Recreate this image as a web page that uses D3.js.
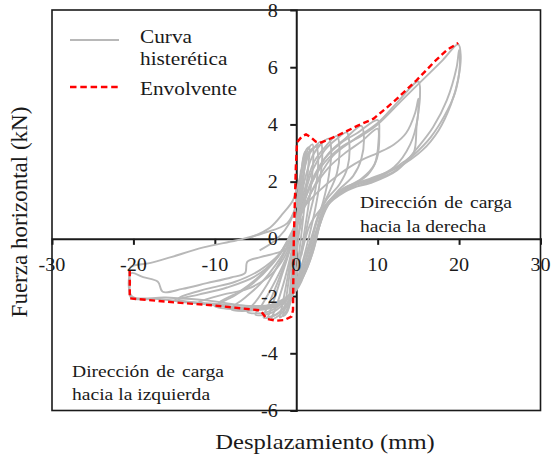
<!DOCTYPE html>
<html><head><meta charset="utf-8">
<script src="https://cdn.jsdelivr.net/npm/d3@7"></script>
<style>body{margin:0;background:#fff}svg{display:block}</style>
</head><body>
<script>
// ---- tick labels / texts ----
const xTickValues = [-30, -20, -10, 0, 10, 20, 30];
const yTickValues = [-6, -4, -2, 0, 2, 4, 6, 8];
const xTitle = "Desplazamiento (mm)";
const yTitle = "Fuerza horizontal (kN)";
const legendHyst = ["Curva", "histerética"];
const legendEnv = "Envolvente";
const noteRight = ["Dirección de carga", "hacia la derecha"];
const noteLeft = ["Dirección de carga", "hacia la izquierda"];

// ---- hysteresis cycles [displacement mm, force kN] ----
const cycle1 = [[-0.4,-1.2],[-0.1,-0.1],[0.2,1.0],[0.45,2.0],[0.55,2.4],[0.45,1.8],[0.2,0.6],[-0.1,-0.6],[-0.4,-1.5],[-0.6,-1.9],[-0.5,-1.5],[-0.2,-0.4],[0.1,0.8]];
const cycle2 = [[-0.6,-1.9],[-0.3,-0.8],[0.1,0.6],[0.5,2.0],[0.9,2.9],[1.1,3.05],[1.0,2.5],[0.7,1.4],[0.3,0.1],[-0.2,-1.1],[-0.7,-2.1],[-1.1,-2.55],[-0.9,-2.1],[-0.5,-1.0],[0,0.3],[0.4,1.6]];
const cycle3 = [[0.4,1.6],[0.8,2.7],[1.3,3.15],[1.6,3.2],[1.5,2.6],[1.1,1.4],[0.6,0.1],[0.1,-1.0],[-0.6,-2.1],[-1.2,-2.6],[-1.6,-2.7],[-1.3,-2.2],[-0.8,-1.2],[-0.2,0.1],[0.3,1.3]];
const cycle4 = [[0.3,1.3],[0.8,2.5],[1.4,3.1],[2.0,3.3],[2.1,2.9],[1.8,1.8],[1.2,0.6],[0.5,-0.6],[-0.3,-1.7],[-1.2,-2.5],[-2.0,-2.75],[-1.7,-2.3],[-1.1,-1.4],[-0.4,-0.2],[0.3,1.0]];
const cycle5 = [[0.3,1.0],[0.9,2.3],[1.6,3.0],[2.4,3.25],[3.0,3.4],[3.2,3.0],[2.9,2.0],[2.3,1.0],[1.5,0],[0.6,-1.0],[-0.5,-2.0],[-1.8,-2.6],[-3.0,-2.8],[-2.5,-2.4],[-1.6,-1.6],[-0.7,-0.6],[0.2,0.6]];
const cycle6 = [[0.2,0.6],[1.0,2.0],[2.0,2.9],[3.0,3.3],[4.0,3.5],[4.3,3.1],[4.0,2.2],[3.3,1.3],[2.4,0.5],[1.5,-0.4],[0.4,-1.4],[-1.0,-2.2],[-2.5,-2.65],[-4.0,-2.75],[-3.4,-2.3],[-2.4,-1.6],[-1.2,-0.7],[0,0.3]];
const cycle7 = [[0,0.3],[1.0,1.7],[2.2,2.7],[3.5,3.2],[5.0,3.6],[5.3,3.2],[5.0,2.3],[4.0,1.6],[2.8,0.9],[1.8,0],[0.6,-1.0],[-0.8,-2.0],[-2.8,-2.55],[-5.0,-2.65],[-4.2,-2.3],[-3.0,-1.7],[-1.6,-0.9],[-0.3,0]];
const cycle8 = [[-0.3,0],[0.8,1.3],[2.0,2.4],[3.5,3.1],[5.0,3.5],[6.2,3.72],[6.5,3.4],[6.3,2.5],[5.3,1.9],[3.8,1.4],[2.6,0.7],[1.8,-0.2],[0.5,-1.2],[-1.2,-2.1],[-3.5,-2.55],[-6.0,-2.55],[-5.0,-2.2],[-3.6,-1.6],[-2.0,-0.8],[-0.6,0]];
const cycle9 = [[-0.6,0],[0.6,1.0],[2.0,2.1],[4.0,3.0],[6.0,3.5],[8.0,3.95],[8.3,3.6],[8.0,2.8],[7.0,2.2],[5.2,1.7],[3.6,1.1],[2.5,0.3],[1.6,-0.6],[0.2,-1.6],[-2.0,-2.3],[-5.0,-2.5],[-8.0,-2.45],[-6.5,-2.1],[-4.5,-1.6],[-2.5,-0.9],[-0.8,-0.1],[0.4,0.8]];
const cycle10 = [[0.4,0.8],[1.8,1.9],[3.5,2.8],[5.5,3.35],[7.5,3.7],[10.0,4.15],[10.2,3.7],[9.9,2.8],[8.8,2.25],[6.5,1.8],[4.2,1.3],[2.9,0.5],[2.0,-0.4],[0.6,-1.4],[-1.5,-2.2],[-5.0,-2.45],[-10.0,-2.35],[-8.0,-2.05],[-5.5,-1.6],[-3.0,-0.9],[-1.0,-0.1],[0.6,0.9]];
const cycle11 = [[0.6,0.9],[2.2,1.8],[4.0,2.5],[6.0,3.0],[8.0,3.4],[10.0,3.85],[10.1,3.4],[9.6,2.6],[8.0,2.1],[5.5,1.7],[3.4,1.1],[2.4,0.2],[1.3,-0.8],[-0.3,-1.8],[-3.0,-2.3],[-6.5,-2.4],[-9.5,-2.25],[-7.0,-1.85],[-4.5,-1.3],[-2.2,-0.6],[-0.5,0.2],[1.0,1.1]];
const cycle12 = [[1.0,1.1],[2.5,2.0],[4.5,2.9],[7.0,3.45],[10.0,4.05],[12.5,4.8],[15.0,5.5],[15.2,5.0],[14.8,4.0],[14.4,3.0],[13.0,2.65],[10.5,2.2],[7.5,1.9],[4.5,1.45],[3.0,0.7],[2.1,-0.2],[1.0,-1.1],[-1.0,-2.1],[-4.5,-2.45],[-10.0,-2.3],[-15.0,-2.15],[-12.0,-1.95],[-8.5,-1.7],[-5.0,-1.3],[-2.5,-0.7],[-0.8,0.1],[0.6,1.0]];
const cycle13 = [[0.6,1.0],[2.5,1.6],[5.0,2.2],[8.0,2.75],[10.0,3.0],[12.0,3.3],[13.5,3.7],[14.6,4.4],[15.0,4.9],[14.9,4.2],[14.0,3.3],[12.0,2.5],[9.0,2.05],[6.0,1.75],[3.8,1.2],[2.6,0.3],[1.6,-0.7],[0,-1.8],[-3.0,-2.3],[-8.0,-2.3],[-14.5,-2.1],[-11.0,-1.75],[-7.5,-1.5],[-4.5,-1.1],[-2.0,-0.5],[-0.2,0.4],[1.2,1.5]];
const cycle14 = [[1.2,1.5],[3.0,2.5],[5.5,3.2],[8.0,3.6],[10.0,4.0],[13.0,4.85],[15.5,5.55],[18.0,6.25],[19.9,6.8],[20.2,6.4],[19.9,5.6],[19.0,4.7],[17.5,3.8],[15.5,3.1],[12.5,2.5],[9.0,2.1],[6.0,1.8],[4.0,1.3],[3.0,0.6],[2.2,-0.3],[1.2,-1.1],[-0.5,-1.9],[-2.5,-2.3],[-6.0,-2.45],[-12.0,-2.25],[-17.0,-2.1],[-20.3,-2.05],[-20.4,-1.5],[-20.4,-1.0],[-18.0,-0.85],[-15.5,-0.65],[-11.4,-0.3],[-7.3,-0.05],[-4.0,0.2],[-1.1,0.55],[0.1,1.25],[0.9,2.1]];
const cycle15 = [[0.6,-0.6],[1.7,0.5],[2.9,1.0],[4.2,1.3],[6.6,1.75],[9.1,1.95],[12.4,2.4],[14.8,3.15],[16.8,3.9],[18.5,4.85],[19.7,6.0],[20.0,6.6],[20.1,6.1],[19.5,5.1],[18.2,4.3],[16.5,3.55],[14.5,2.95],[12.0,2.35],[9.0,2.0],[6.0,1.65],[3.8,1.15],[2.8,0.4],[2.0,-0.5],[0.9,-1.3],[-0.8,-2.0],[-3.0,-2.35],[-6.0,-2.35],[-11.0,-2.15],[-16.0,-2.05],[-20.2,-2.0],[-20.3,-1.2],[-18.8,-1.34],[-17.0,-1.5],[-16.4,-1.85],[-14.0,-1.75],[-11.0,-1.55],[-8.0,-1.35],[-6.3,-1.2],[-6.0,-0.8],[-4.4,-0.64],[-2.5,-0.5],[-1.1,-0.35],[0,0],[0.8,0.8]];
const cycle16 = [[-5.6,0.05],[-3.2,0.4],[-1.6,0.9],[-0.4,1.35],[0.5,2.2],[1.2,2.9],[2.0,3.15]];
const cycle17 = [[-4.5,-0.4],[-2.8,-0.1],[-1.4,0.3],[-0.3,0.9],[0.4,1.9],[1.0,2.7],[1.8,3.1],[3.0,3.3]];
const cycle18 = [[2.5,3.3],[2.7,2.8],[2.4,1.8],[1.6,0.8],[0.8,-0.3],[0,-1.3],[-0.8,-2.1],[-2.2,-2.6],[-3.5,-2.75]];
const cycle19 = [[-3.5,-2.75],[-2.8,-2.2],[-1.8,-1.3],[-0.8,-0.4],[0.1,0.6],[0.7,1.8],[1.3,2.8],[2.2,3.2]];
const cycle20 = [[-12.0,-2.2],[-9.0,-1.95],[-6.0,-1.75],[-3.5,-1.35],[-1.8,-0.8],[-0.6,-0.1],[0.3,0.8]];

// ---- envelope ----
const envelope = [[-20.45,-1.1],[-20.45,-2.08],[-15,-2.22],[-10,-2.33],[-4.4,-2.5],[-3.6,-2.8],[-2.5,-2.86],[-1.5,-2.84],[-0.6,-2.72],[-0.4,-2.5],[-0.3,0],[-0.05,2.5],[0.1,3.38],[0.7,3.58],[1.2,3.65],[1.8,3.55],[2.4,3.4],[2.9,3.35],[5,3.6],[7.5,3.95],[9.5,4.2],[12,4.8],[14.8,5.55],[17,6.2],[18.5,6.6],[19.9,6.85]];

const cycles = [cycle1,cycle2,cycle3,cycle4,cycle5,cycle6,cycle7,cycle8,cycle9,cycle10,
  cycle11,cycle12,cycle13,cycle14,cycle15,cycle16,cycle17,cycle18,cycle19,cycle20];

// ---- drawing ----
const W = 551, H = 456;
const FONT = "'Liberation Serif','Times New Roman',serif";
const SX = 1.12;
const svg = d3.select("body").append("svg").attr("width", W).attr("height", H);
const x = d3.scaleLinear().domain([-30, 30]).range([52, 540.5]);
const y = d3.scaleLinear().domain([-6, 8]).range([410.5, 10]);
const GRAY = "#b8b8b8", RED = "#ff0000", INK = "#1a1a1a";

function txt(g, px, py, s, size, anchor) {
  return g.append("text")
    .attr("transform", `translate(${px},${py}) scale(${SX},1)`)
    .attr("text-anchor", anchor)
    .style("font-family", FONT).style("font-size", size + "px")
    .attr("fill", INK).text(s);
}

// frame
svg.append("rect").attr("x", x(-30)).attr("y", y(8))
  .attr("width", x(30) - x(-30)).attr("height", y(-6) - y(8))
  .attr("fill", "none").attr("stroke", INK).attr("stroke-width", 1.6);

// axes through origin
const xAxis = d3.axisBottom(x).tickValues([-20, -10, 10, 20]).tickSize(6).tickFormat("");
const gx = svg.append("g").attr("transform", `translate(0,${y(0)})`).call(xAxis);
const yAxis = d3.axisLeft(y).tickValues([-4, -2, 2, 4, 6]).tickSize(6).tickFormat("");
const gy = svg.append("g").attr("transform", `translate(${x(0)},0)`).call(yAxis);
[gx, gy].forEach(g => {
  g.select(".domain").attr("stroke", INK).attr("stroke-width", 2);
  g.selectAll(".tick line").attr("stroke", INK).attr("stroke-width", 2);
});

// hysteresis curves
const line = d3.line().x(d => x(d[0])).y(d => y(d[1])).curve(d3.curveCatmullRom.alpha(0.5));
svg.append("g").selectAll("path").data(cycles).join("path")
  .attr("d", line).attr("fill", "none").attr("stroke", GRAY)
  .attr("stroke-width", 1.9).attr("stroke-linejoin", "round");

// envelope
const envLine = d3.line().x(d => x(d[0])).y(d => y(d[1]));
svg.append("path").datum(envelope).attr("d", envLine)
  .attr("fill", "none").attr("stroke", RED).attr("stroke-width", 2.4)
  .attr("stroke-dasharray", "6,3.5");

// tick labels
const lab = svg.append("g");
xTickValues.forEach(v => txt(lab, x(v), y(0) + 32.5, String(v), 18, "middle"));
yTickValues.forEach(v => txt(lab, x(0) - 18.5, y(v) + 6.5, String(v), 18, "end"));

// axis titles
txt(svg, 325, 449, xTitle, 22, "middle");
svg.append("text").attr("transform", `translate(27,212) rotate(-90)`)
  .attr("text-anchor", "middle").style("font-family", FONT).style("font-size", "23px")
  .attr("fill", INK).text(yTitle);

// annotations
txt(svg, 360, 208, noteRight[0], 17.5, "start").style("word-spacing", "2px");
txt(svg, 360, 232, noteRight[1], 17.5, "start");
txt(svg, 72, 377, noteLeft[0], 17.5, "start").style("word-spacing", "2px");
txt(svg, 72, 400, noteLeft[1], 17.5, "start");

// legend
svg.append("line").attr("x1", 70).attr("x2", 119).attr("y1", 40).attr("y2", 40)
  .attr("stroke", GRAY).attr("stroke-width", 2);
svg.append("line").attr("x1", 70).attr("x2", 119).attr("y1", 87).attr("y2", 87)
  .attr("stroke", RED).attr("stroke-width", 2.4).attr("stroke-dasharray", "6.5,3.8");
txt(svg, 140, 43, legendHyst[0], 19, "start");
txt(svg, 140, 65, legendHyst[1], 19, "start");
txt(svg, 140, 95, legendEnv, 19, "start");
</script>
</body></html>
